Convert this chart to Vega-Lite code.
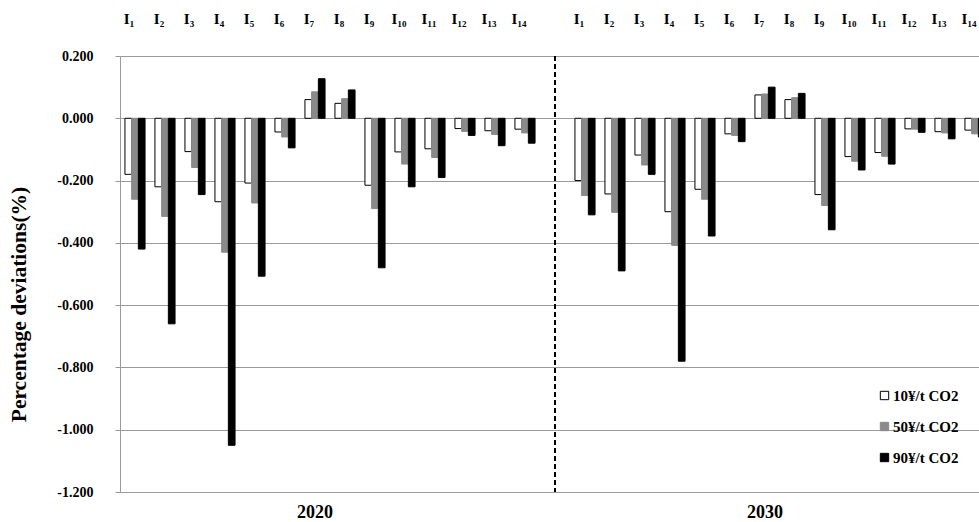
{
  "$schema": "https://vega.github.io/schema/vega-lite/v6.json",
  "width": 859,
  "height": 436,
  "autosize": "none",
  "padding": {"left": 120, "top": 56, "right": 0, "bottom": 30},
  "background": "white",
  "config": {"view": {"stroke": null}, "font": "Liberation Serif"},
  "layer": [
    {
      "data": {"values": [
        {"k": "2020 I₁", "s": "10¥/t CO2", "v": -0.18}, {"k": "2020 I₁", "s": "50¥/t CO2", "v": -0.26}, {"k": "2020 I₁", "s": "90¥/t CO2", "v": -0.42},
        {"k": "2020 I₂", "s": "10¥/t CO2", "v": -0.22}, {"k": "2020 I₂", "s": "50¥/t CO2", "v": -0.315}, {"k": "2020 I₂", "s": "90¥/t CO2", "v": -0.66},
        {"k": "2020 I₃", "s": "10¥/t CO2", "v": -0.107}, {"k": "2020 I₃", "s": "50¥/t CO2", "v": -0.158}, {"k": "2020 I₃", "s": "90¥/t CO2", "v": -0.245},
        {"k": "2020 I₄", "s": "10¥/t CO2", "v": -0.268}, {"k": "2020 I₄", "s": "50¥/t CO2", "v": -0.43}, {"k": "2020 I₄", "s": "90¥/t CO2", "v": -1.05},
        {"k": "2020 I₅", "s": "10¥/t CO2", "v": -0.208}, {"k": "2020 I₅", "s": "50¥/t CO2", "v": -0.272}, {"k": "2020 I₅", "s": "90¥/t CO2", "v": -0.507},
        {"k": "2020 I₆", "s": "10¥/t CO2", "v": -0.044}, {"k": "2020 I₆", "s": "50¥/t CO2", "v": -0.06}, {"k": "2020 I₆", "s": "90¥/t CO2", "v": -0.095},
        {"k": "2020 I₇", "s": "10¥/t CO2", "v": 0.06}, {"k": "2020 I₇", "s": "50¥/t CO2", "v": 0.085}, {"k": "2020 I₇", "s": "90¥/t CO2", "v": 0.127},
        {"k": "2020 I₈", "s": "10¥/t CO2", "v": 0.048}, {"k": "2020 I₈", "s": "50¥/t CO2", "v": 0.063}, {"k": "2020 I₈", "s": "90¥/t CO2", "v": 0.091},
        {"k": "2020 I₉", "s": "10¥/t CO2", "v": -0.215}, {"k": "2020 I₉", "s": "50¥/t CO2", "v": -0.29}, {"k": "2020 I₉", "s": "90¥/t CO2", "v": -0.48},
        {"k": "2020 I₁₀", "s": "10¥/t CO2", "v": -0.108}, {"k": "2020 I₁₀", "s": "50¥/t CO2", "v": -0.147}, {"k": "2020 I₁₀", "s": "90¥/t CO2", "v": -0.22},
        {"k": "2020 I₁₁", "s": "10¥/t CO2", "v": -0.098}, {"k": "2020 I₁₁", "s": "50¥/t CO2", "v": -0.126}, {"k": "2020 I₁₁", "s": "90¥/t CO2", "v": -0.19},
        {"k": "2020 I₁₂", "s": "10¥/t CO2", "v": -0.033}, {"k": "2020 I₁₂", "s": "50¥/t CO2", "v": -0.042}, {"k": "2020 I₁₂", "s": "90¥/t CO2", "v": -0.055},
        {"k": "2020 I₁₃", "s": "10¥/t CO2", "v": -0.04}, {"k": "2020 I₁₃", "s": "50¥/t CO2", "v": -0.052}, {"k": "2020 I₁₃", "s": "90¥/t CO2", "v": -0.088},
        {"k": "2020 I₁₄", "s": "10¥/t CO2", "v": -0.035}, {"k": "2020 I₁₄", "s": "50¥/t CO2", "v": -0.047}, {"k": "2020 I₁₄", "s": "90¥/t CO2", "v": -0.08},
        {"k": "2030 I₁", "s": "10¥/t CO2", "v": -0.2}, {"k": "2030 I₁", "s": "50¥/t CO2", "v": -0.248}, {"k": "2030 I₁", "s": "90¥/t CO2", "v": -0.31},
        {"k": "2030 I₂", "s": "10¥/t CO2", "v": -0.243}, {"k": "2030 I₂", "s": "50¥/t CO2", "v": -0.302}, {"k": "2030 I₂", "s": "90¥/t CO2", "v": -0.49},
        {"k": "2030 I₃", "s": "10¥/t CO2", "v": -0.118}, {"k": "2030 I₃", "s": "50¥/t CO2", "v": -0.15}, {"k": "2030 I₃", "s": "90¥/t CO2", "v": -0.18},
        {"k": "2030 I₄", "s": "10¥/t CO2", "v": -0.3}, {"k": "2030 I₄", "s": "50¥/t CO2", "v": -0.408}, {"k": "2030 I₄", "s": "90¥/t CO2", "v": -0.78},
        {"k": "2030 I₅", "s": "10¥/t CO2", "v": -0.228}, {"k": "2030 I₅", "s": "50¥/t CO2", "v": -0.26}, {"k": "2030 I₅", "s": "90¥/t CO2", "v": -0.378},
        {"k": "2030 I₆", "s": "10¥/t CO2", "v": -0.05}, {"k": "2030 I₆", "s": "50¥/t CO2", "v": -0.055}, {"k": "2030 I₆", "s": "90¥/t CO2", "v": -0.075},
        {"k": "2030 I₇", "s": "10¥/t CO2", "v": 0.075}, {"k": "2030 I₇", "s": "50¥/t CO2", "v": 0.078}, {"k": "2030 I₇", "s": "90¥/t CO2", "v": 0.1},
        {"k": "2030 I₈", "s": "10¥/t CO2", "v": 0.06}, {"k": "2030 I₈", "s": "50¥/t CO2", "v": 0.066}, {"k": "2030 I₈", "s": "90¥/t CO2", "v": 0.08},
        {"k": "2030 I₉", "s": "10¥/t CO2", "v": -0.245}, {"k": "2030 I₉", "s": "50¥/t CO2", "v": -0.28}, {"k": "2030 I₉", "s": "90¥/t CO2", "v": -0.358},
        {"k": "2030 I₁₀", "s": "10¥/t CO2", "v": -0.123}, {"k": "2030 I₁₀", "s": "50¥/t CO2", "v": -0.138}, {"k": "2030 I₁₀", "s": "90¥/t CO2", "v": -0.166},
        {"k": "2030 I₁₁", "s": "10¥/t CO2", "v": -0.11}, {"k": "2030 I₁₁", "s": "50¥/t CO2", "v": -0.122}, {"k": "2030 I₁₁", "s": "90¥/t CO2", "v": -0.147},
        {"k": "2030 I₁₂", "s": "10¥/t CO2", "v": -0.034}, {"k": "2030 I₁₂", "s": "50¥/t CO2", "v": -0.035}, {"k": "2030 I₁₂", "s": "90¥/t CO2", "v": -0.045},
        {"k": "2030 I₁₃", "s": "10¥/t CO2", "v": -0.043}, {"k": "2030 I₁₃", "s": "50¥/t CO2", "v": -0.047}, {"k": "2030 I₁₃", "s": "90¥/t CO2", "v": -0.066},
        {"k": "2030 I₁₄", "s": "10¥/t CO2", "v": -0.038}, {"k": "2030 I₁₄", "s": "50¥/t CO2", "v": -0.05}, {"k": "2030 I₁₄", "s": "90¥/t CO2", "v": -0.06}
      ]},
      "mark": {"type": "bar", "strokeWidth": 1},
      "encoding": {
        "x": {
          "field": "k", "type": "nominal",
          "scale": {
            "domain": ["2020 I₁", "2020 I₂", "2020 I₃", "2020 I₄", "2020 I₅", "2020 I₆", "2020 I₇", "2020 I₈", "2020 I₉", "2020 I₁₀", "2020 I₁₁", "2020 I₁₂", "2020 I₁₃", "2020 I₁₄", "gap", "2030 I₁", "2030 I₂", "2030 I₃", "2030 I₄", "2030 I₅", "2030 I₆", "2030 I₇", "2030 I₈", "2030 I₉", "2030 I₁₀", "2030 I₁₁", "2030 I₁₂", "2030 I₁₃", "2030 I₁₄"],
            "range": [0, 870],
            "paddingInner": 0.33,
            "paddingOuter": 0.165
          },
          "axis": {
            "orient": "top", "title": null, "domain": false, "ticks": false, "grid": false,
            "labelAngle": 0, "labelPadding": 30, "labelOffset": -6, "labelFont": "Liberation Serif", "labelFontWeight": "bold",
            "labelFontSize": 15, "labelColor": "black",
            "labelExpr": "datum.value == 'gap' ? '' : slice(datum.value, 5)"
          }
        },
        "xOffset": {"field": "s", "type": "nominal", "scale": {"domain": ["10¥/t CO2", "50¥/t CO2", "90¥/t CO2"], "paddingInner": 0, "paddingOuter": 0}},
        "y": {
          "field": "v", "type": "quantitative",
          "scale": {"domain": [-1.2, 0.2], "nice": false, "zero": false},
          "axis": {
            "title": "Percentage deviations(%)",
            "values": [-1.2, -1, -0.8, -0.6, -0.4, -0.2, 0, 0.2],
            "labelExpr": "replace(format(datum.value, '.3f'), '\u2212', '-')",
            "grid": true, "gridColor": "#9a9a9a", "domainColor": "#9a9a9a", "tickColor": "#9a9a9a",
            "tickSize": 5, "labelPadding": 22,
            "labelFont": "Liberation Serif", "labelFontWeight": "bold", "labelFontSize": 14, "labelColor": "black",
            "titleFont": "Liberation Serif", "titleFontWeight": "bold", "titleFontSize": 21.5, "titleColor": "black",
            "titlePadding": 26, "titleY": 248
          }
        },
        "fill": {
          "field": "s", "type": "nominal",
          "scale": {"domain": ["10¥/t CO2", "50¥/t CO2", "90¥/t CO2"], "range": ["white", "#8a8a8a", "black"]},
          "legend": {"title": null, "orient": "none", "legendX": 757, "legendY": 332, "symbolType": "square", "symbolSize": 70, "symbolStrokeWidth": 1, "labelFont": "Liberation Serif", "labelFontWeight": "bold", "labelFontSize": 15, "labelColor": "black", "rowPadding": 15, "labelOffset": 1, "padding": 0}
        },
        "stroke": {
          "field": "s", "type": "nominal",
          "scale": {"domain": ["10¥/t CO2", "50¥/t CO2", "90¥/t CO2"], "range": ["black", "#8a8a8a", "black"]},
          "legend": {"title": null, "orient": "none", "legendX": 757, "legendY": 332, "symbolType": "square", "symbolSize": 70, "symbolStrokeWidth": 1, "labelFont": "Liberation Serif", "labelFontWeight": "bold", "labelFontSize": 15, "labelColor": "black", "rowPadding": 15, "labelOffset": 1, "padding": 0}
        }
      }
    },
    {
      "data": {"values": [{"yr": "2020", "k": "2020 I₇"}, {"yr": "2030", "k": "2030 I₇"}]},
      "mark": {"type": "text", "baseline": "top", "dy": 12, "fontSize": 18, "fontWeight": "bold", "font": "Liberation Serif", "color": "black"},
      "encoding": {
        "x": {"field": "k", "type": "nominal", "title": null},
        "y": {"datum": -1.2, "type": "quantitative"},
        "text": {"field": "yr"}
      }
    },
    {
      "data": {"values": [{"sep": "gap"}]},
      "mark": {"type": "rule", "strokeDash": [5, 3], "strokeWidth": 2, "color": "black"},
      "encoding": {
        "x": {"field": "sep", "type": "nominal", "title": null},
        "y": {"datum": 0.2, "type": "quantitative"},
        "y2": {"datum": -1.2}
      }
    }
  ]
}
